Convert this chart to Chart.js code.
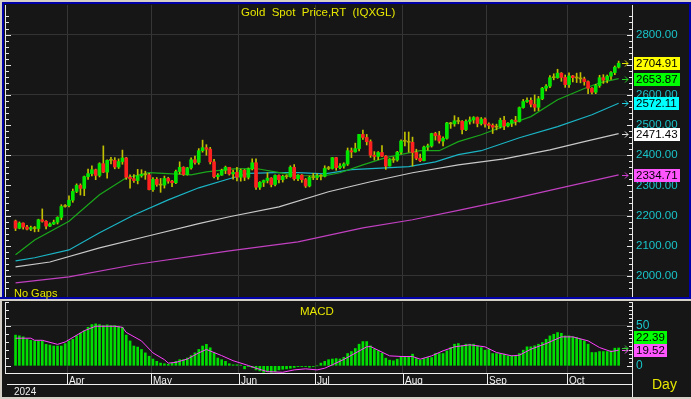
<!DOCTYPE html>
<html>
<head>
<meta charset="utf-8">
<script src="https://cdn.jsdelivr.net/npm/chart.js@4.4.1/dist/chart.umd.min.js"></script>
<style>
  body { margin: 0; background: #161616; }
  #wrap { position: relative; width: 691px; height: 399px; overflow: hidden; background: #161616; font-family: 'Liberation Sans', Arial, sans-serif; }
  canvas { position: absolute; left: 0; }
  .ln { position: absolute; }
  .txt { position: absolute; white-space: pre; color: #e6e600; line-height: 14px; }
</style>
</head>
<body>
<div id="wrap">
  <canvas id="priceChart" width="691" height="297" style="top:0"></canvas>
  <canvas id="macdChart" width="691" height="97" style="top:301px"></canvas>
  <div class="ln" style="left:0;top:0;width:691px;height:2px;background:#d4d0c8"></div>
  <div class="ln" style="left:0;top:2px;width:691px;height:2px;background:#0000a8"></div>
  <div class="ln" style="left:0;top:0;width:2px;height:399px;background:#d4d0c8"></div>
  <div class="ln" style="left:2px;top:2px;width:2px;height:297px;background:#0000a8"></div>
  <div class="ln" style="left:689px;top:2px;width:2px;height:297px;background:#0000a8"></div>
  <div class="ln" style="left:0;top:297px;width:691px;height:2px;background:#0000a8"></div>
  <div class="ln" style="left:0;top:299px;width:691px;height:2px;background:#d4d0c8"></div>
  <div class="ln" style="left:0;top:397px;width:691px;height:2px;background:#d4d0c8"></div>
  <div class="txt" style="left:241px;top:5px;font-size:11.5px">Gold  Spot  Price,RT  (IQXGL)</div>
  <div class="txt" style="left:14px;top:286px;font-size:11px">No Gaps</div>
  <div class="txt" style="left:300px;top:304px;font-size:11.5px">MACD</div>
  <div class="txt" style="left:652px;top:376px;font-size:14px;line-height:16px">Day</div>
  <div class="txt" style="left:14px;top:385px;font-size:10px;color:#f0f0f0">2024</div>
</div>
<script>
// daily candles, 12 Mar - 18 Oct 2024 (weekdays)
const openP = [
  2182,2158,2175,2162,2155,2160,2157,2186,2181,2165,2172,2178,2194,2230,
  2233,2251,2280,2300,2290,2329,2339,2352,2333,2372,2344,2383,2383,2361,2379,2391,2327,2322,2316,2332,2337,2335,
  2286,2320,2303,2301,2323,2314,2309,2346,2360,2336,2358,2385,2376,2415,2425,2420,2378,2329,2334,2350,2360,2338,2343,
  2327,2350,2327,2355,2375,2294,2310,2316,2324,2303,2333,2319,2330,2329,2360,2322,2334,2319,2298,2327,
  2326,2332,2330,2356,2356,2392,2359,2364,2371,2415,2411,2422,2469,2459,2445,2400,2396,2409,2397,2364,2387,2384,2410,
  2447,2446,2443,2409,2390,2382,2427,2431,2472,2465,2447,2456,2507,2504,2514,2512,2485,2512,2517,2525,2505,2520,
  2503,2499,2493,2495,2516,2497,2506,2516,2512,2558,2578,2582,2569,2559,2587,2622,2629,2657,2657,2672,2658,
  2634,2663,2657,2656,2653,2644,2622,2609,2631,2657,2649,2662,2674,2692
];
const highP = [
  2185,2179,2176,2168,2165,2164,2188,2222,2183,2176,2185,2196,2236,2236,
  2265,2288,2305,2305,2331,2354,2365,2354,2375,2431,2385,2393,2392,2388,2417,2393,2335,2336,2353,2352,2347,2340,
  2326,2326,2323,2331,2327,2317,2351,2378,2362,2360,2391,2397,2422,2450,2435,2426,2386,2339,2354,2364,2360,2351,2360,
  2354,2353,2358,2388,2388,2313,2318,2342,2326,2335,2335,2334,2335,2365,2369,2336,2336,2323,2331,2340,
  2338,2336,2365,2363,2393,2393,2372,2375,2424,2424,2440,2469,2483,2469,2451,2412,2412,2432,2399,2389,2394,2413,2451,
  2477,2477,2460,2420,2404,2430,2437,2473,2476,2479,2461,2509,2509,2531,2525,2515,2517,2527,2528,2527,2525,2524,
  2507,2504,2503,2523,2529,2508,2518,2529,2560,2585,2590,2590,2600,2595,2625,2634,2664,2670,2685,2674,2666,
  2673,2665,2672,2674,2659,2647,2624,2635,2665,2667,2666,2677,2696,2712
];
const lowP = [
  2150,2156,2155,2152,2150,2146,2147,2178,2156,2163,2170,2172,2186,2228,
  2229,2244,2276,2268,2266,2320,2331,2319,2328,2342,2324,2371,2355,2356,2370,2320,2291,2310,2305,2327,2320,2285,
  2280,2297,2277,2291,2307,2296,2306,2338,2333,2334,2354,2370,2370,2410,2400,2371,2325,2320,2333,2339,2334,2321,2315,
  2314,2316,2321,2351,2287,2287,2296,2308,2295,2298,2308,2311,2323,2327,2317,2316,2310,2293,2295,2319,
  2319,2318,2328,2352,2354,2350,2355,2357,2366,2392,2410,2414,2452,2434,2393,2384,2385,2395,2353,2364,2376,2380,2404,
  2431,2410,2364,2385,2379,2381,2417,2427,2450,2440,2431,2453,2489,2496,2504,2471,2481,2503,2506,2494,2500,2493,
  2488,2472,2484,2490,2485,2494,2495,2500,2510,2556,2575,2560,2546,2548,2584,2613,2624,2650,2655,2645,2625,
  2625,2643,2641,2640,2632,2604,2603,2604,2625,2638,2640,2651,2667,2689
];
const closeP = [
  2158,2175,2162,2155,2160,2157,2186,2181,2165,2172,2178,2194,2230,2233,
  2251,2280,2300,2290,2329,2339,2352,2333,2372,2344,2383,2383,2361,2379,2391,2327,2322,2316,2332,2337,2335,2286,
  2320,2303,2301,2323,2314,2309,2346,2360,2336,2358,2385,2376,2415,2425,2420,2378,2329,2334,2350,2360,2338,2343,2327,
  2350,2327,2355,2375,2294,2310,2316,2324,2303,2333,2319,2330,2329,2360,2322,2334,2319,2298,2327,2326,
  2332,2330,2356,2356,2392,2359,2364,2371,2415,2411,2422,2469,2459,2445,2400,2396,2409,2397,2364,2387,2384,2410,2447,
  2446,2443,2409,2390,2382,2427,2431,2472,2465,2447,2456,2507,2504,2514,2512,2485,2512,2517,2525,2505,2520,2503,
  2499,2493,2495,2516,2497,2506,2516,2512,2558,2578,2582,2569,2559,2587,2622,2629,2657,2657,2672,2658,2634,
  2663,2657,2656,2653,2644,2622,2609,2631,2657,2649,2662,2674,2692,2704.91
];

// moving averages at some days (index into the day list)
const ma20At = [0,5,14,22,29,35,46,50,57,63,68,74,81,85,91,97,103,106,111,116,122,129,135,142,149,153,158];
const ma20 = [2070,2119,2181,2269,2325,2342,2335,2345,2355,2356,2345,2332,2332,2342,2368,2392,2408,2415,2415,2445,2468,2501,2528,2584,2621,2640,2653.87];
const ma50At = [0,5,14,22,31,40,48,56,61,68,74,81,88,97,103,110,116,122,132,142,151,158];
const ma50 = [2050,2060,2086,2143,2202,2252,2292,2322,2340,2342,2342,2338,2352,2358,2362,2378,2402,2415,2458,2495,2534,2572.11];
const ma100At = [0,9,22,35,48,56,69,82,93,104,116,128,140,149,158];
const ma100 = [2030,2046,2093,2133,2173,2196,2229,2279,2312,2342,2368,2388,2418,2445,2471.43];
const ma200At = [0,14,31,56,74,91,104,116,129,142,158];
const ma200 = [1977,1997,2037,2083,2113,2159,2186,2217,2252,2289,2334.71];

// MACD histogram per day and signal line at some days
const macdHist = [
  38.5,37.6,36.3,33.3,32,31.2,31.2,31.2,26.9,26,
  24.8,24.8,24.8,27.8,31.2,33.3,37.6,41,44,48.3,
  51.7,52.6,51.7,50.4,51.3,50.4,50.4,49.1,48.3,38.5,
  31.2,24.8,23.5,20.5,16.2,12,8.5,5.6,3.4,2.6,
  2.1,3.4,5.6,7.7,7.7,9.8,12.8,16.2,20.5,24.8,
  26.9,22.6,16.2,9.8,7.7,5.6,2.6,1.3,1.3,0.9,
  -3.8,-0.9,-2.1,-5.1,-6.4,-8.1,-7.3,-8.1,-7.3,-5.1,
  -4.3,-3.8,-3,-2.1,-0.9,-0.9,-0.9,-1.7,-0.9,0,
  3.4,5.6,7.7,8.5,9,8.5,10.7,
  15.4,17.9,21.7,27.1,30.4,30.4,25,20.8,18.8,15.8,
  9.6,7.1,6.3,8.3,11.3,11.3,11.3,14.6,9.2,7.1,
  9.2,10.4,10.4,15.4,15.4,15.4,18.8,22.9,27.1,27.9,
  25,27.1,27.1,27.1,25,22.9,19.6,20.8,15.4,15.4,
  14.6,14.6,12.5,12.5,12.5,15.4,19.6,23.8,23.8,25,
  27.1,29.2,33.3,37.5,39.6,41.7,40.8,37.5,37.5,36.3,
  35.4,33.3,31.3,27.1,16.7,16.7,17.9,17.9,17.9,18.8,
  22.1,22.39
];
const sigAt = [0,4,5,7,11,13,18,21,26,28,29,33,36,39,40,42,45,48,50,54,57,61,63,66,70,73,76,79,81,83,86,92,93,98,101,104,106,109,112,115,119,123,126,130,132,135,139,143,146,150,153,156,158];
const sigVal = [34.6,34.6,32,32,26.9,29.9,44,49.6,49.6,48.3,41.9,31.2,16.2,7.7,3.4,4.3,8.5,16.2,20.5,12.8,6.4,0.4,-3,-7.3,-8.1,-5.1,-3.8,-5.1,-3,1.3,8,23.8,24.2,12.5,11.7,11.7,8.3,12.5,18.8,23.8,26.3,23.8,16.7,12.5,13.3,20.8,27.9,36.3,36.3,31.3,22.9,17.9,19.52];

const monthNames = ['Jan','Feb','Mar','Apr','May','Jun','Jul','Aug','Sep','Oct','Nov','Dec'];

// trading days
const dates = [];
for (let d = new Date(Date.UTC(2024, 2, 12)); d <= new Date(Date.UTC(2024, 9, 18)); d.setUTCDate(d.getUTCDate() + 1)) {
  const wd = d.getUTCDay();
  if (wd !== 0 && wd !== 6) dates.push(d.toISOString().slice(0, 10));
}
// 2 empty slots before, 3 after
const labels = ['p1', 'p2', ...dates, 'e1', 'e2', 'e3'];
const pad = arr => [null, null, ...arr, null, null, null];

const monthStarts = [];
dates.forEach((d, i) => {
  if (i > 0 && d.slice(5, 7) !== dates[i - 1].slice(5, 7)) {
    monthStarts.push({ cat: i + 2, name: monthNames[parseInt(d.slice(5, 7)) - 1] });
  }
});
const monthCats = monthStarts.map(m => m.cat);

const bodies = pad(openP.map((o, i) => [o, closeP[i]]));
const wicks = pad(lowP.map((l, i) => [l, highP[i]]));
const bodyColors = pad(openP.map((o, i) => {
  const c = closeP[i];
  if (Math.abs(c - o) < 4) return '#a8a800';
  return c > o ? '#00e600' : '#ff2020';
}));
const pts = (at, vals) => at.map((d, k) => ({ x: dates[d], y: vals[k] }));

const FONT = "'Liberation Sans', Arial, sans-serif";
const monthGrid = c => (monthCats.includes(c.index) ? '#363636' : 'rgba(0,0,0,0)');
// no extra room for overhanging labels
const fitRight = s => {
  s.width = 59;
  s.paddingTop = 0;
  s.paddingBottom = 0;
};

// white edge ticks drawn inside the plot, like the terminal does
const edgeTicks = {
  id: 'edgeTicks',
  afterDatasetsDraw(chart, args, opts) {
    const ys = chart.scales.y, area = chart.chartArea, g = chart.ctx;
    g.save();
    g.strokeStyle = '#e8e8e8';
    g.lineWidth = 1;
    g.beginPath();
    g.moveTo(area.left - 0.5, area.top);
    g.lineTo(area.left - 0.5, area.bottom);
    ys.ticks.forEach(t => {
      const v = t.value;
      if (Math.abs(v % opts.step) > 1e-6) return;
      const py = Math.round(ys.getPixelForValue(v)) + 0.5;
      const major = Math.abs(v % opts.major) < 1e-6;
      if (Math.abs(v % opts.left) < 1e-6) {
        g.moveTo(area.left - 1, py);
        g.lineTo(area.left + (major ? 5 : 3), py);
      }
      g.moveTo(area.right - (major ? 5 : 3), py);
      g.lineTo(area.right, py);
    });
    g.stroke();
    g.restore();
  }
};

// last value boxes on the right axis
const valueTags = {
  id: 'valueTags',
  afterDraw(chart, args, opts) {
    const ys = chart.scales.y, area = chart.chartArea, g = chart.ctx;
    g.save();
    g.font = '11.5px ' + FONT;
    g.textBaseline = 'middle';
    const items = opts.items
      .map(it => Object.assign({}, it, { py: ys.getPixelForValue(it.value) }))
      .sort((p, q) => q.py - p.py);
    let prev = Infinity;
    items.forEach(it => {
      const txt = it.value.toFixed(2);
      const by = Math.round(Math.min(it.py, prev - 13));
      prev = by;
      const py = Math.round(it.py) + 0.5;
      g.strokeStyle = it.arrow;
      g.lineWidth = 1;
      g.beginPath();
      g.moveTo(area.right - 10, py);
      g.lineTo(area.right - 4, py);
      g.moveTo(area.right - 7, py - 3);
      g.lineTo(area.right - 4, py);
      g.lineTo(area.right - 7, py + 3);
      g.stroke();
      const w = Math.ceil(g.measureText(txt).width) + 4;
      g.fillStyle = it.bg;
      g.fillRect(area.right + 2, by - 6, w, 13);
      g.fillStyle = '#000';
      g.fillText(txt, area.right + 4, by + 1);
    });
    g.restore();
  }
};

// month row under the MACD pane
const monthRow = {
  id: 'monthRow',
  afterDraw(chart) {
    const xs = chart.scales.x, area = chart.chartArea, g = chart.ctx;
    const edge = cat => (xs.getPixelForValue(cat - 1) + xs.getPixelForValue(cat)) / 2;
    const y0 = area.bottom + 0.5, y1 = area.bottom + 11.5;
    g.save();
    g.strokeStyle = '#f0f0f0';
    g.lineWidth = 1;
    g.beginPath();
    g.moveTo(area.left - 1, y0); g.lineTo(area.right, y0);
    g.moveTo(area.left + 1, y1); g.lineTo(area.right, y1);
    monthStarts.forEach(m => {
      const px = Math.round(edge(m.cat)) + 0.5;
      g.moveTo(px, y0); g.lineTo(px, y1);
    });
    g.moveTo(area.right + 0.5, area.bottom); g.lineTo(area.right + 0.5, chart.height);
    g.stroke();
    g.beginPath();
    g.rect(area.left, area.bottom + 1, area.right - area.left, 10);
    g.clip();
    g.fillStyle = '#f0f0f0';
    g.font = '10px ' + FONT;
    g.textBaseline = 'top';
    monthStarts.forEach(m => g.fillText(m.name, Math.round(edge(m.cat)) + 2, area.bottom + 3));
    g.restore();
  }
};

new Chart(document.getElementById('priceChart'), {
  type: 'bar',
  data: {
    labels: labels,
    datasets: [
      { label: 'body', data: bodies, backgroundColor: bodyColors, barThickness: 3, minBarLength: 1, grouped: false, order: 0 },
      { label: 'wick', data: wicks, backgroundColor: '#c0c000', barThickness: 1, grouped: false, order: 1 },
      { type: 'line', label: 'MA20', data: pts(ma20At, ma20), borderColor: '#1aa81a', borderWidth: 1.2, pointRadius: 0, order: 2 },
      { type: 'line', label: 'MA50', data: pts(ma50At, ma50), borderColor: '#1ab4c4', borderWidth: 1.2, pointRadius: 0, order: 3 },
      { type: 'line', label: 'MA100', data: pts(ma100At, ma100), borderColor: '#c8c8c8', borderWidth: 1.2, pointRadius: 0, order: 4 },
      { type: 'line', label: 'MA200', data: pts(ma200At, ma200), borderColor: '#c040c0', borderWidth: 1.2, pointRadius: 0, order: 5 }
    ]
  },
  options: {
    responsive: false,
    animation: false,
    devicePixelRatio: 1,
    layout: { padding: { left: 6, top: 5, right: 0, bottom: 0 } },
    plugins: {
      legend: { display: false },
      tooltip: { enabled: false },
      edgeTicks: { step: 20, left: 20, major: 100 },
      valueTags: {
        items: [
          { value: closeP[closeP.length - 1], bg: '#ffff00', arrow: '#e0e000' },
          { value: ma20[ma20.length - 1], bg: '#00ff00', arrow: '#20d020' },
          { value: ma50[ma50.length - 1], bg: '#00ffff', arrow: '#20d0e0' },
          { value: ma100[ma100.length - 1], bg: '#ffffff', arrow: '#e0e0e0' },
          { value: ma200[ma200.length - 1], bg: '#ff55ff', arrow: '#d040d0' }
        ]
      }
    },
    scales: {
      x: {
        type: 'category',
        offset: true,
        grid: { offset: true, color: monthGrid, drawTicks: false },
        ticks: { display: false, autoSkip: false },
        border: { display: false },
        afterFit: s => { s.height = 0; }
      },
      y: {
        position: 'right',
        min: 1930,
        max: 2898,
        afterFit: fitRight,
        grid: { color: c => (c.tick && c.tick.value % 200 === 0 ? '#333333' : 'rgba(0,0,0,0)'), drawTicks: false },
        border: { color: '#e8e8e8' },
        ticks: {
          stepSize: 20,
          autoSkip: false,
          padding: 4,
          color: '#19c3c8',
          font: { family: FONT, size: 11.5 },
          callback: v => (v % 100 === 0 ? v.toFixed(2) : '')
        }
      }
    }
  },
  plugins: [edgeTicks, valueTags]
});

new Chart(document.getElementById('macdChart'), {
  type: 'bar',
  data: {
    labels: labels,
    datasets: [
      { type: 'line', label: 'Signal', data: pts(sigAt, sigVal), borderColor: '#ff40ff', borderWidth: 1, pointRadius: 0, order: 0 },
      { label: 'MACD', data: pad(macdHist), backgroundColor: '#00dd00', barThickness: 2, order: 1 }
    ]
  },
  options: {
    responsive: false,
    animation: false,
    devicePixelRatio: 1,
    layout: { padding: { left: 6, top: 1, right: 0, bottom: 25 } },
    plugins: {
      legend: { display: false },
      tooltip: { enabled: false },
      edgeTicks: { step: 5, left: 10, major: 50 },
      valueTags: {
        items: [
          { value: macdHist[macdHist.length - 1], bg: '#00ff00', arrow: '#30d030' },
          { value: sigVal[sigVal.length - 1], bg: '#ff55ff', arrow: '#ff55ff' }
        ]
      }
    },
    scales: {
      x: {
        type: 'category',
        offset: true,
        grid: { offset: true, color: monthGrid, drawTicks: false },
        ticks: { display: false, autoSkip: false },
        border: { display: false },
        afterFit: s => { s.height = 0; }
      },
      y: {
        position: 'right',
        min: -9,
        max: 80,
        afterFit: fitRight,
        grid: { color: c => (c.tick && c.tick.value === 50 ? '#333333' : 'rgba(0,0,0,0)'), drawTicks: false },
        border: { color: '#e8e8e8' },
        ticks: {
          stepSize: 5,
          autoSkip: false,
          padding: 4,
          color: '#19c3c8',
          font: { family: FONT, size: 12 },
          callback: v => (v === 0 || v === 50 ? String(v) : '')
        }
      }
    }
  },
  plugins: [edgeTicks, valueTags, monthRow]
});
</script>
</body>
</html>
